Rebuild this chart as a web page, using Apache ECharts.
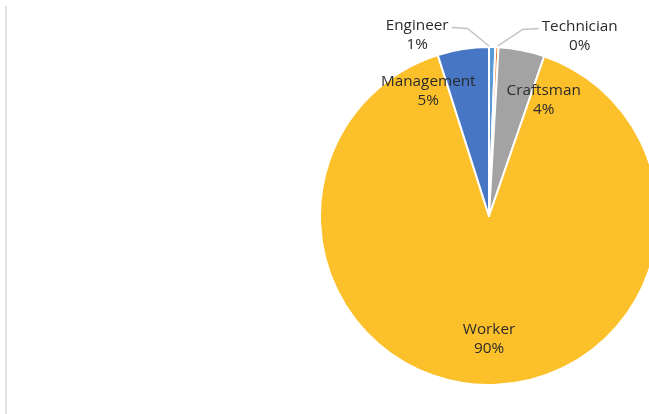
<!DOCTYPE html>
<html>
<head>
<meta charset="utf-8">
<script src="https://cdn.jsdelivr.net/npm/echarts@6/dist/echarts.min.js"></script>
<style>html,body{margin:0;padding:0;background:#fff}#c{width:649px;height:414px}</style>
</head>
<body>
<div id="c"></div>
<script>
const categories = ['Engineer', 'Technician', 'Craftsman', 'Worker', 'Management'];
const values = [0.6, 0.3, 4.4, 89.8, 4.9];
const colors = ['#5B9BD5', '#ED7D31', '#A3A3A3', '#FCC02B', '#4676C4'];

// label placement relative to pie centre: angle (deg clockwise from 12 o'clock), distance as fraction of radius
const labelPolar = [
  { a: -21.7, d: 1.15 },
  { a: 26.8, d: 1.19 },
  { a: 25.2, d: 0.76 },
  { a: 180, d: 0.73 },
  { a: -26, d: 0.82 }
];
const hasLine = [true, true, false, false, false];

const CX = 489, CY = 216, R = 169;
function polar(aDeg, d) {
  const a = aDeg * Math.PI / 180;
  return [CX + Math.sin(a) * R * d, CY - Math.cos(a) * R * d];
}

const chart = echarts.init(document.getElementById('c'));
chart.setOption({
  animation: false,
  backgroundColor: '#fff',
  graphic: [{
    type: 'line',
    shape: { x1: 6, y1: 6, x2: 6, y2: 414 },
    style: { stroke: '#e3e3e3', lineWidth: 2 }
  }],
  series: [{
    type: 'pie',
    center: [CX, CY],
    radius: R,
    startAngle: 90,
    clockwise: true,
    percentPrecision: 0,
    avoidLabelOverlap: false,
    itemStyle: { borderColor: '#fff', borderWidth: 2 },
    label: {
      show: true,
      formatter: '{b}\n{d}%',
      fontFamily: 'Open Sans',
      fontSize: 15.3,
      lineHeight: 19,
      color: '#2b2b2b',
      align: 'center'
    },
    labelLine: { show: true, lineStyle: { color: '#c4c4c4', width: 1.5 }, length: 10, length2: 10 },
    labelLayout: function (p) {
      const i = p.dataIndex;
      const pos = polar(labelPolar[i].a, labelPolar[i].d);
      const out = { x: pos[0], y: pos[1], align: 'center', verticalAlign: 'middle' };
      if (hasLine[i]) {
        const rectW = p.labelRect.width;
        const dir = labelPolar[i].a < 0 ? 1 : -1;
        const edge = pos[0] + dir * (rectW / 2 + 3);
        const start = polar(i === 0 ? 0.4 : 2.4, 1.0);
        out.labelLinePoints = [start, [edge + dir * 16, pos[1] - 7], [edge, pos[1] - 8]];
      }
      return out;
    },
    data: categories.map((c, i) => ({
      name: c,
      value: values[i],
      itemStyle: { color: colors[i] },
      labelLine: { show: hasLine[i] }
    }))
  }]
});
</script>
</body>
</html>
